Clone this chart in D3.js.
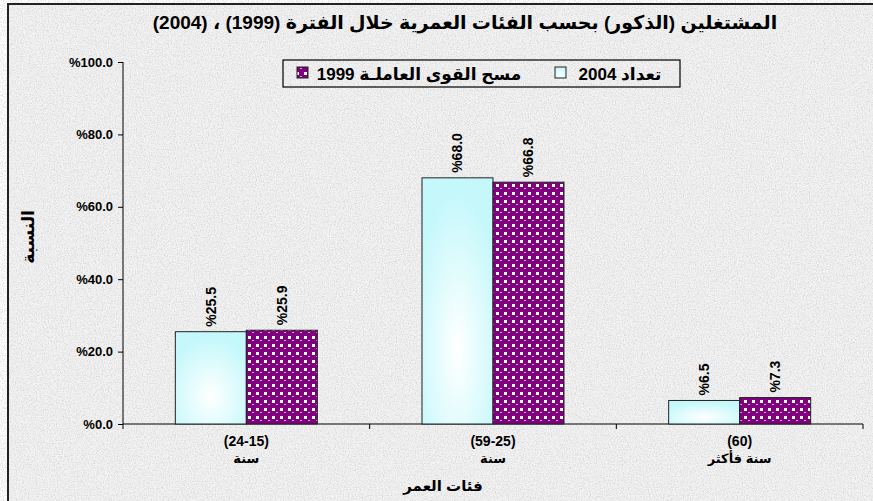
<!DOCTYPE html>
<html>
<head>
<meta charset="utf-8">
<script src="https://cdn.jsdelivr.net/npm/d3@7"></script>
<style>
  body { margin: 0; background: #fff; }
  svg text { font-family: "Liberation Sans", "DejaVu Sans", Arial, sans-serif; font-weight: bold; fill: #000; }
</style>
</head>
<body>
<svg id="chart"></svg>
<script>
// chart values
var title = 'المشتغلين (الذكور) بحسب الفئات العمرية خلال الفترة (1999) ، (2004)';
var catTop = ['(24-15)', '(59-25)', '(60)'];
var catBottom = ['سنة', 'سنة', 'سنة فأكثر'];
var seriesNames = ['تعداد 2004', 'مسح القوى العاملـة 1999'];
var values2004 = [25.5, 68.0, 6.5];
var values1999 = [25.9, 66.8, 7.3];
var yTicks = [0, 20, 40, 60, 80, 100];
var yTitle = 'النسبة';
var xTitle = 'فئات العمر';

var w = 873, h = 501;
var plotL = 123, plotR = 863, plotT = 62, plotB = 424;

var svg = d3.select('#chart').attr('width', w).attr('height', h);
var defs = svg.append('defs');

// granite-like background
var grain = defs.append('filter').attr('id', 'grain')
    .attr('filterUnits', 'userSpaceOnUse')
    .attr('x', 0).attr('y', 0).attr('width', w).attr('height', h);
grain.append('feTurbulence').attr('type', 'fractalNoise')
    .attr('baseFrequency', 0.85).attr('numOctaves', 3).attr('seed', 4);
grain.append('feColorMatrix').attr('type', 'matrix')
    .attr('values', '0 0 0 0 0.62  0 0 0 0 0.62  0 0 0 0 0.62  1.7 0 0 0 -0.68');

// light cyan gradient for 2004
var grad = defs.append('radialGradient').attr('id', 'cyanGrad')
    .attr('cx', '50%').attr('cy', '70%').attr('r', '65%');
grad.append('stop').attr('offset', '0%').attr('stop-color', '#ffffff');
grad.append('stop').attr('offset', '100%').attr('stop-color', '#c4f8fb');

// purple bubble pattern for 1999
var pat = defs.append('pattern').attr('id', 'purplePat')
    .attr('patternUnits', 'userSpaceOnUse').attr('width', 8).attr('height', 8);
pat.append('rect').attr('width', 8).attr('height', 8).attr('fill', '#800080');
pat.append('rect').attr('x', 0).attr('y', 0).attr('width', 3).attr('height', 3).attr('fill', '#ffffff');
pat.append('rect').attr('x', 4).attr('y', 4).attr('width', 2).attr('height', 1).attr('fill', '#d7a6d7');

svg.append('rect').attr('x', 7).attr('y', 3).attr('width', w - 7).attr('height', h - 3)
    .attr('fill', '#f3f3f3');
svg.append('rect').attr('x', 7).attr('y', 3).attr('width', w - 7).attr('height', h - 3)
    .attr('fill', '#000').attr('filter', 'url(#grain)');
svg.append('path').attr('d', 'M8,' + h + 'V4H' + w)
    .attr('fill', 'none').attr('stroke', '#222').attr('stroke-width', 2);

// scales
var x = d3.scaleBand().domain(d3.range(catTop.length)).range([plotL, plotR]);
var xInner = d3.scaleBand().domain([0, 1]).range([0, x.bandwidth()]).paddingOuter(0.737);
var y = d3.scaleLinear().domain([0, 100]).range([plotB, plotT]);

// title
svg.append('text').attr('x', 465).attr('y', 29)
    .attr('text-anchor', 'middle').attr('direction', 'rtl')
    .style('font-size', '19px').text(title);

// y axis
var yAxis = svg.append('g').attr('transform', 'translate(' + plotL + ',0)')
    .call(d3.axisLeft(y).tickValues(yTicks).tickSize(5).tickPadding(5)
        .tickFormat(function(d){ return '%' + d.toFixed(1); }));
yAxis.selectAll('text').style('font-size', '13px').attr('direction', 'ltr');
yAxis.selectAll('path, line').attr('stroke', '#000');
yAxis.select('.domain').attr('d', 'M0,' + plotT + 'V' + plotB);

// x axis
var xAxis = svg.append('g').attr('transform', 'translate(0,' + plotB + ')');
xAxis.append('line').attr('x1', plotL).attr('x2', plotR).attr('stroke', '#000');
xAxis.selectAll('line.tk')
    .data(d3.range(catTop.length + 1))
    .enter()
    .append('line')
    .attr('class', 'tk')
    .attr('x1', function(d){ return plotL + d * x.step(); })
    .attr('x2', function(d){ return plotL + d * x.step(); })
    .attr('y1', 0).attr('y2', 5).attr('stroke', '#000');

svg.selectAll('text.cat1')
    .data(catTop)
    .enter()
    .append('text')
    .attr('class', 'cat1')
    .attr('x', function(d, i){ return x(i) + x.bandwidth() / 2; })
    .attr('y', 446)
    .attr('text-anchor', 'middle')
    .style('font-size', '14px')
    .text(function(d){ return d; });

svg.selectAll('text.cat2')
    .data(catBottom)
    .enter()
    .append('text')
    .attr('class', 'cat2')
    .attr('x', function(d, i){ return x(i) + x.bandwidth() / 2; })
    .attr('y', 463)
    .attr('text-anchor', 'middle').attr('direction', 'rtl')
    .style('font-size', '13px')
    .text(function(d){ return d; });

svg.append('text').attr('x', 443).attr('y', 491)
    .attr('text-anchor', 'middle').attr('direction', 'rtl')
    .style('font-size', '15px').text(xTitle);

svg.append('text')
    .attr('transform', 'translate(28,237) rotate(-90)')
    .attr('text-anchor', 'middle').attr('direction', 'rtl').attr('dy', '0.35em')
    .style('font-size', '17px').text(yTitle);

// bars
var series = [
  {name: seriesNames[0], values: values2004, fill: 'url(#cyanGrad)'},
  {name: seriesNames[1], values: values1999, fill: 'url(#purplePat)'}
];

series.forEach(function(s, si){
  svg.selectAll('rect.s' + si)
    .data(s.values)
    .enter()
    .append('rect')
    .attr('class', 's' + si)
    .attr('x', function(d, i){ return x(i) + xInner(si); })
    .attr('y', function(d){ return y(d); })
    .attr('width', xInner.bandwidth())
    .attr('height', function(d){ return plotB - y(d); })
    .attr('fill', s.fill)
    .attr('stroke', '#222')
    .attr('stroke-width', 1);

  svg.selectAll('text.lbl' + si)
    .data(s.values)
    .enter()
    .append('text')
    .attr('class', 'lbl' + si)
    .attr('transform', function(d, i){
      var cx = x(i) + xInner(si) + xInner.bandwidth() / 2;
      return 'translate(' + cx + ',' + (y(d) - 5) + ') rotate(-90)';
    })
    .attr('dy', '0.35em')
    .style('font-size', '14px')
    .text(function(d){ return '%' + d.toFixed(1); });
});

// legend
var legend = svg.append('g');
legend.append('rect').attr('x', 283).attr('y', 60).attr('width', 397).attr('height', 27)
    .attr('fill', 'none').attr('stroke', '#000').attr('stroke-width', 1.2);

var legendPos = [{sx: 555, tx: 620}, {sx: 297, tx: 419}];
legend.selectAll('rect.key')
    .data(series)
    .enter()
    .append('rect')
    .attr('class', 'key')
    .attr('x', function(d, i){ return legendPos[i].sx; })
    .attr('y', 67).attr('width', 11).attr('height', 11)
    .attr('fill', function(d){ return d.fill; })
    .attr('stroke', '#222');

legend.selectAll('text.key')
    .data(series)
    .enter()
    .append('text')
    .attr('class', 'key')
    .attr('x', function(d, i){ return legendPos[i].tx; })
    .attr('y', 80)
    .attr('text-anchor', 'middle').attr('direction', 'rtl')
    .style('font-size', '17px')
    .text(function(d){ return d.name; });
</script>
</body>
</html>
